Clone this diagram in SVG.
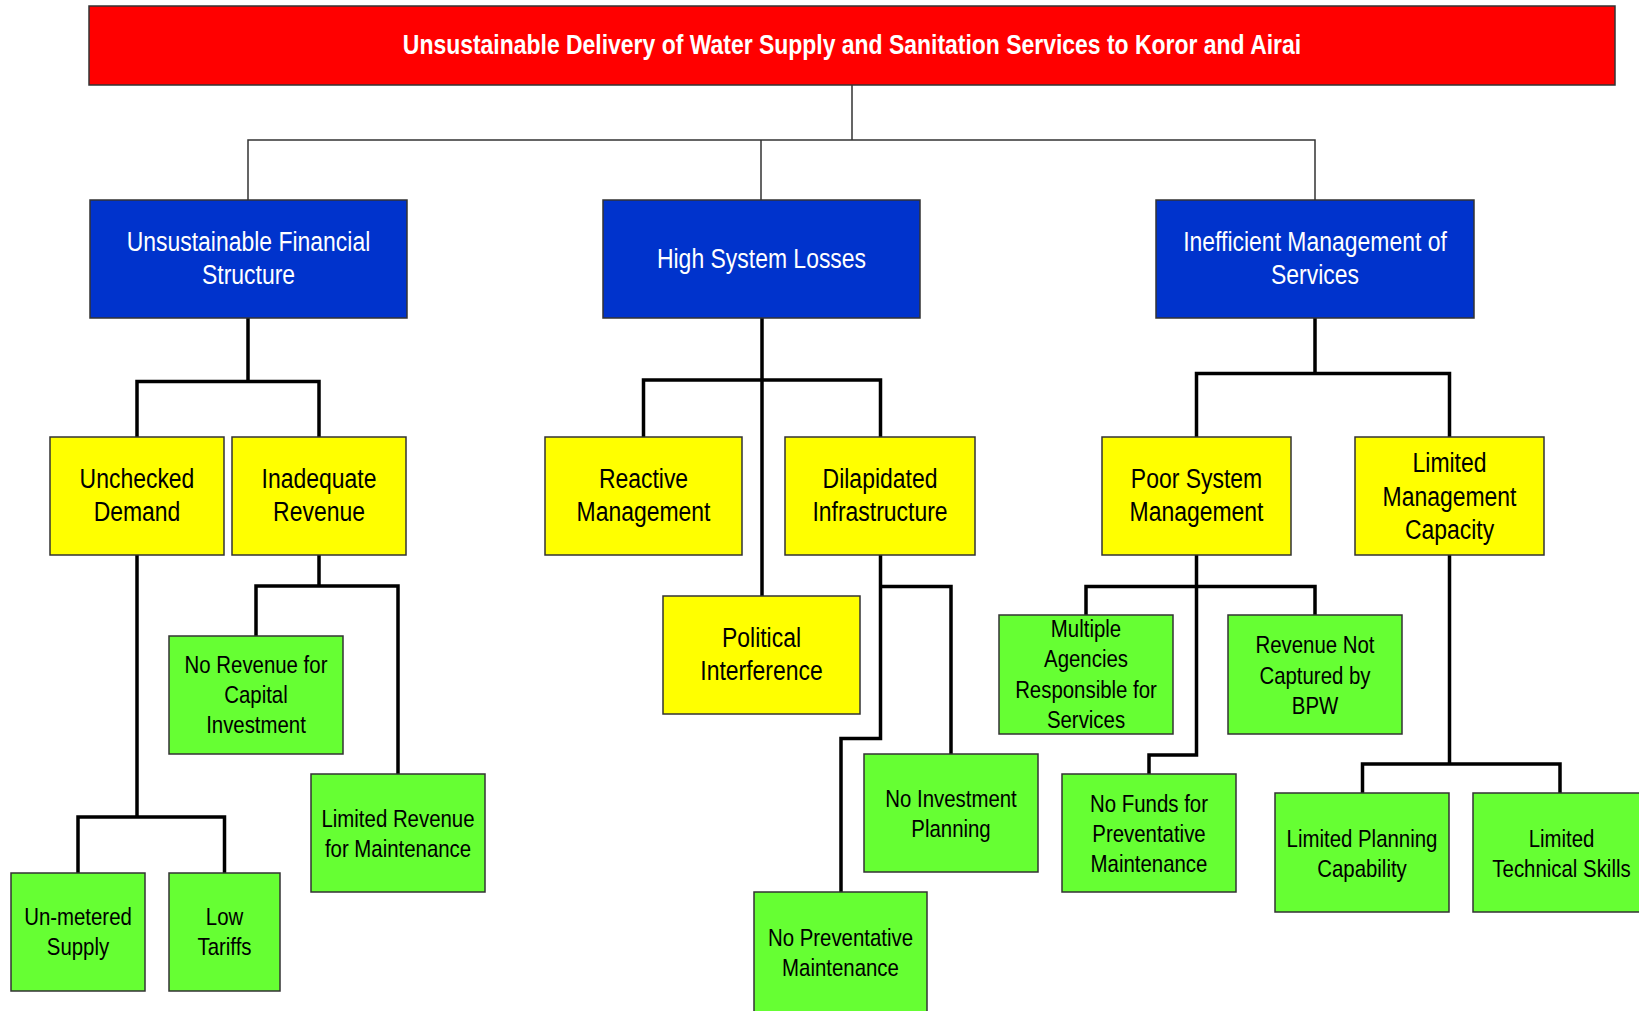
<svg xmlns="http://www.w3.org/2000/svg" width="1639" height="1011" viewBox="0 0 1639 1011">
<style>
rect{stroke:#333;stroke-width:1.5}
.red{fill:#FF0000}.blue{fill:#0033CC}.yel{fill:#FFFF00}.grn{fill:#66FF33}
text{font-family:"Liberation Sans",Arial,sans-serif;text-anchor:middle}
.t{font-size:27px;font-weight:bold;fill:#fff}
.b{font-size:27px;fill:#fff}
.y{font-size:27px;fill:#000}
.g{font-size:24px;fill:#000}
.thin{fill:none;stroke:#333;stroke-width:1.5}
.thick{fill:none;stroke:#000;stroke-width:3.5}
</style>
<g id="connectors">
<path class="thin" d="M852,85V140M248,200V140H1315V200M761,140V200"/>
<path class="thick" d="M248,318V381.5M137,437V381.5H319V437"/>
<path class="thick" d="M137,555V817M78,873V817H224.5V873"/>
<path class="thick" d="M319,555V586M256,636V586H398V774"/>
<path class="thick" d="M762,318V596M643.5,437V380H880.5V437"/>
<path class="thick" d="M880.5,555V586.5H951V754M880.5,586.5V738.5H841V892"/>
<path class="thick" d="M1315,318V373.5M1196.5,437V373.5H1449.5V437"/>
<path class="thick" d="M1196.5,555V755H1149V774M1086,615V586.5H1315V615"/>
<path class="thick" d="M1449.5,555V764M1362.5,793V764H1560V793"/>
</g>
<g id="title"><rect class="red" x="89" y="6" width="1526" height="79"/>
<text class="t" transform="translate(852,0) scale(0.85,1)"><tspan x="0" y="54">Unsustainable Delivery of Water Supply and Sanitation Services to Koror and Airai</tspan></text></g>
<g id="n-financial"><rect class="blue" x="90" y="200" width="317" height="118"/>
<text class="b" transform="translate(248.5,0) scale(0.85,1)"><tspan x="0" y="251">Unsustainable Financial</tspan><tspan x="0" y="284.5">Structure</tspan></text></g>
<g id="n-losses"><rect class="blue" x="603" y="200" width="317" height="118"/>
<text class="b" transform="translate(761.5,0) scale(0.85,1)"><tspan x="0" y="268.5">High System Losses</tspan></text></g>
<g id="n-inefficient"><rect class="blue" x="1156" y="200" width="318" height="118"/>
<text class="b" transform="translate(1315,0) scale(0.85,1)"><tspan x="0" y="251">Inefficient Management of</tspan><tspan x="0" y="284.5">Services</tspan></text></g>
<g id="n-unchecked"><rect class="yel" x="50" y="437" width="174" height="118"/>
<text class="y" transform="translate(137,0) scale(0.85,1)"><tspan x="0" y="488">Unchecked</tspan><tspan x="0" y="521.5">Demand</tspan></text></g>
<g id="n-inadequate"><rect class="yel" x="232" y="437" width="174" height="118"/>
<text class="y" transform="translate(319,0) scale(0.85,1)"><tspan x="0" y="488">Inadequate</tspan><tspan x="0" y="521.5">Revenue</tspan></text></g>
<g id="n-reactive"><rect class="yel" x="545" y="437" width="197" height="118"/>
<text class="y" transform="translate(643.5,0) scale(0.85,1)"><tspan x="0" y="488">Reactive</tspan><tspan x="0" y="521.5">Management</tspan></text></g>
<g id="n-dilapidated"><rect class="yel" x="785" y="437" width="190" height="118"/>
<text class="y" transform="translate(880,0) scale(0.85,1)"><tspan x="0" y="488">Dilapidated</tspan><tspan x="0" y="521.5">Infrastructure</tspan></text></g>
<g id="n-poor"><rect class="yel" x="1102" y="437" width="189" height="118"/>
<text class="y" transform="translate(1196.5,0) scale(0.85,1)"><tspan x="0" y="488">Poor System</tspan><tspan x="0" y="521.5">Management</tspan></text></g>
<g id="n-limitedmgmt"><rect class="yel" x="1355" y="437" width="189" height="118"/>
<text class="y" transform="translate(1449.5,0) scale(0.85,1)"><tspan x="0" y="472">Limited</tspan><tspan x="0" y="506">Management</tspan><tspan x="0" y="539.5">Capacity</tspan></text></g>
<g id="n-political"><rect class="yel" x="663" y="596" width="197" height="118"/>
<text class="y" transform="translate(761.5,0) scale(0.85,1)"><tspan x="0" y="647">Political</tspan><tspan x="0" y="680.5">Interference</tspan></text></g>
<g id="n-norevenue"><rect class="grn" x="169" y="636" width="174" height="118"/>
<text class="g" transform="translate(256,0) scale(0.85,1)"><tspan x="0" y="673">No Revenue for</tspan><tspan x="0" y="703">Capital</tspan><tspan x="0" y="733">Investment</tspan></text></g>
<g id="n-limrevenue"><rect class="grn" x="311" y="774" width="174" height="118"/>
<text class="g" transform="translate(398,0) scale(0.85,1)"><tspan x="0" y="827">Limited Revenue</tspan><tspan x="0" y="857">for Maintenance</tspan></text></g>
<g id="n-unmetered"><rect class="grn" x="11" y="873" width="134" height="118"/>
<text class="g" transform="translate(78,0) scale(0.85,1)"><tspan x="0" y="925">Un-metered</tspan><tspan x="0" y="955.5">Supply</tspan></text></g>
<g id="n-lowtariffs"><rect class="grn" x="169" y="873" width="111" height="118"/>
<text class="g" transform="translate(224.5,0) scale(0.85,1)"><tspan x="0" y="925">Low</tspan><tspan x="0" y="955.5">Tariffs</tspan></text></g>
<g id="n-noinvest"><rect class="grn" x="864" y="754" width="174" height="118"/>
<text class="g" transform="translate(951,0) scale(0.85,1)"><tspan x="0" y="807">No Investment</tspan><tspan x="0" y="837">Planning</tspan></text></g>
<g id="n-noprev"><rect class="grn" x="754" y="892" width="173" height="125"/>
<text class="g" transform="translate(840.5,0) scale(0.85,1)"><tspan x="0" y="946">No Preventative</tspan><tspan x="0" y="976">Maintenance</tspan></text></g>
<g id="n-multiple"><rect class="grn" x="999" y="615" width="174" height="119"/>
<text class="g" transform="translate(1086,0) scale(0.85,1)"><tspan x="0" y="637">Multiple</tspan><tspan x="0" y="667">Agencies</tspan><tspan x="0" y="698">Responsible for</tspan><tspan x="0" y="728">Services</tspan></text></g>
<g id="n-notcaptured"><rect class="grn" x="1228" y="615" width="174" height="119"/>
<text class="g" transform="translate(1315,0) scale(0.85,1)"><tspan x="0" y="653.5">Revenue Not</tspan><tspan x="0" y="684">Captured by</tspan><tspan x="0" y="714">BPW</tspan></text></g>
<g id="n-nofunds"><rect class="grn" x="1062" y="774" width="174" height="118"/>
<text class="g" transform="translate(1149,0) scale(0.85,1)"><tspan x="0" y="812">No Funds for</tspan><tspan x="0" y="842">Preventative</tspan><tspan x="0" y="872">Maintenance</tspan></text></g>
<g id="n-limplanning"><rect class="grn" x="1275" y="793" width="174" height="119"/>
<text class="g" transform="translate(1362,0) scale(0.85,1)"><tspan x="0" y="847">Limited Planning</tspan><tspan x="0" y="877">Capability</tspan></text></g>
<g id="n-limtech"><rect class="grn" x="1473" y="793" width="180" height="119"/>
<text class="g" transform="translate(1561.5,0) scale(0.85,1)"><tspan x="0" y="847">Limited</tspan><tspan x="0" y="877">Technical Skills</tspan></text></g>
</svg>
